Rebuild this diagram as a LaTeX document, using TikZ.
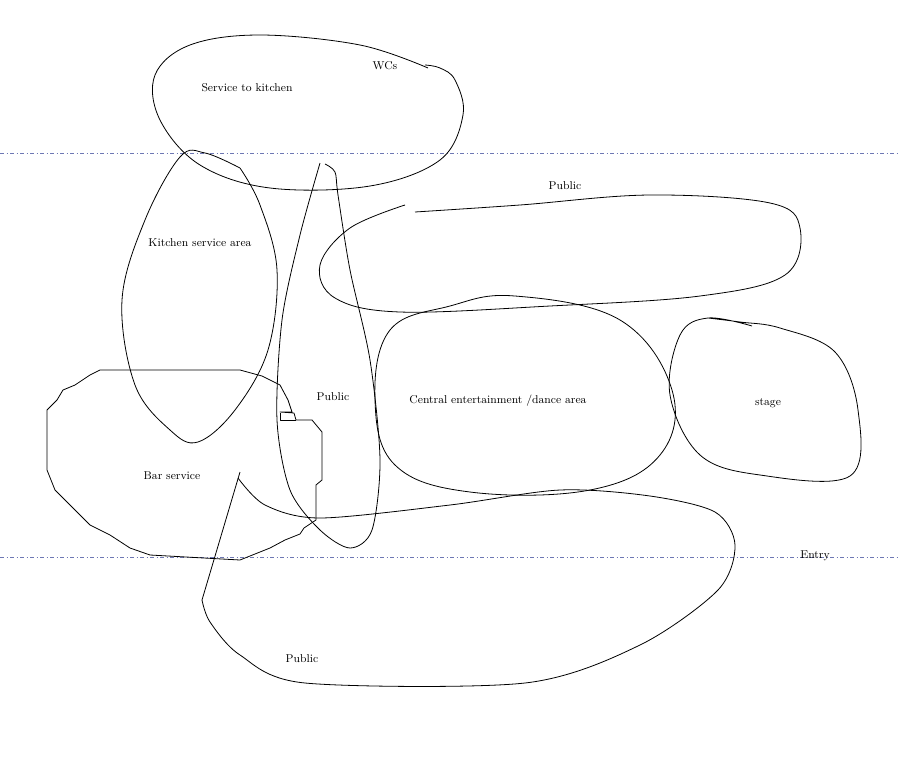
\documentclass[tikz,border=0pt]{standalone}
\begin{document}
\begin{tikzpicture}[x=0.75pt,y=-0.75pt,
  bub/.style={draw=black,line width=0.6pt,line join=round},
  guide/.style={draw={rgb,255:red,110;green,120;blue,180},line width=0.5pt,dash dot},
  lbl/.style={font=\fontsize{8.5}{9}\selectfont,inner sep=0pt}]
\useasboundingbox[fill=white] (0,0) rectangle (899,757);
\coordinate (gl1) at (0,153); \coordinate (gr1) at (899,153);
\coordinate (gl2) at (0,557); \coordinate (gr2) at (899,557);
\draw[guide] (gl1) -- (gr1);
\draw[guide] (gl2) -- (gr2);
% top loop
\draw[bub] plot[smooth,tension=0.6] coordinates {(428,68)(360,45)(260,35)(190,45)(155,75)(160,120)(200,165)(270,188)(370,186)(440,160)(463,115)(455,80)(440,68)(425,65)};
% kitchen teardrop
\draw[bub] plot[smooth,tension=0.6] coordinates {(240,168)(205,153)(180,157)(145,220)(122,300)(135,385)(170,430)(198,442)(235,410)(268,350)(277,270)(260,205)(240,168)};
% public tall
\draw[bub] plot[smooth,tension=0.5] coordinates {(320,163)(300,235)(282,320)(277,420)(290,490)(320,530)(350,548)(372,530)(380,460)(370,360)(350,270)(338,195)(335,172)(325,164)};
% public top right
\draw[bub] plot[smooth,tension=0.6] coordinates {(405,205)(350,228)(320,265)(335,298)(400,312)(550,306)(700,296)(785,275)(800,228)(770,203)(650,195)(520,205)(415,212)};
% central
\draw[bub] plot[smooth cycle,tension=0.65] coordinates {(515,296)(620,320)(672,390)(660,455)(590,490)(470,492)(395,465)(375,400)(390,330)(450,306)};
% stage
\draw[bub] plot[smooth,tension=0.6] coordinates {(752,326)(708,318)(680,335)(670,395)(700,455)(760,475)(850,476)(858,410)(835,352)(780,328)(740,322)(708,318)};
% bar service (jagged)
\draw[bub] plot coordinates {(100,370)(240,370)(262,376)(280,385)(288,400)(292,412)(280,412)(294,413)(296,420)(312,420)(322,432)(322,480)(316,485)(316,520)(304,528)(300,534)(285,540)(270,548)(240,560)(150,555)(130,548)(110,535)(90,525)(70,505)(55,490)(47,470)(47,410)(57,400)(63,390)(75,385)(90,375)(100,370)};
\draw[bub] (280,413) -- (280,420) -- (296,420);
% bottom public
\draw[bub] plot[smooth,tension=0.5] coordinates {(238,478)(265,505)(320,518)(450,505)(560,490)(650,496)(715,512)(735,545)(718,590)(640,645)(525,683)(305,683)(240,655)(210,622)(202,600)};
\draw[bub] (202,600) -- (240,472);
% labels
\node[lbl] (t1) at (247,88) {Service to kitchen};
\node[lbl] (t2) at (385,66) {WCs};
\node[lbl] (t3) at (565,186) {Public};
\node[lbl] (t4) at (200,243) {Kitchen service area};
\node[lbl] (t5) at (333,397) {Public};
\node[lbl] (t6) at (498,401) {Central entertainment /dance area};
\node[lbl] (t7) at (768,403) {stage};
\node[lbl] (t8) at (172,476) {Bar service};
\node[lbl] (t9) at (815,556) {Entry};
\node[lbl] (t10) at (302,659) {Public};
\end{tikzpicture}
\end{document}
